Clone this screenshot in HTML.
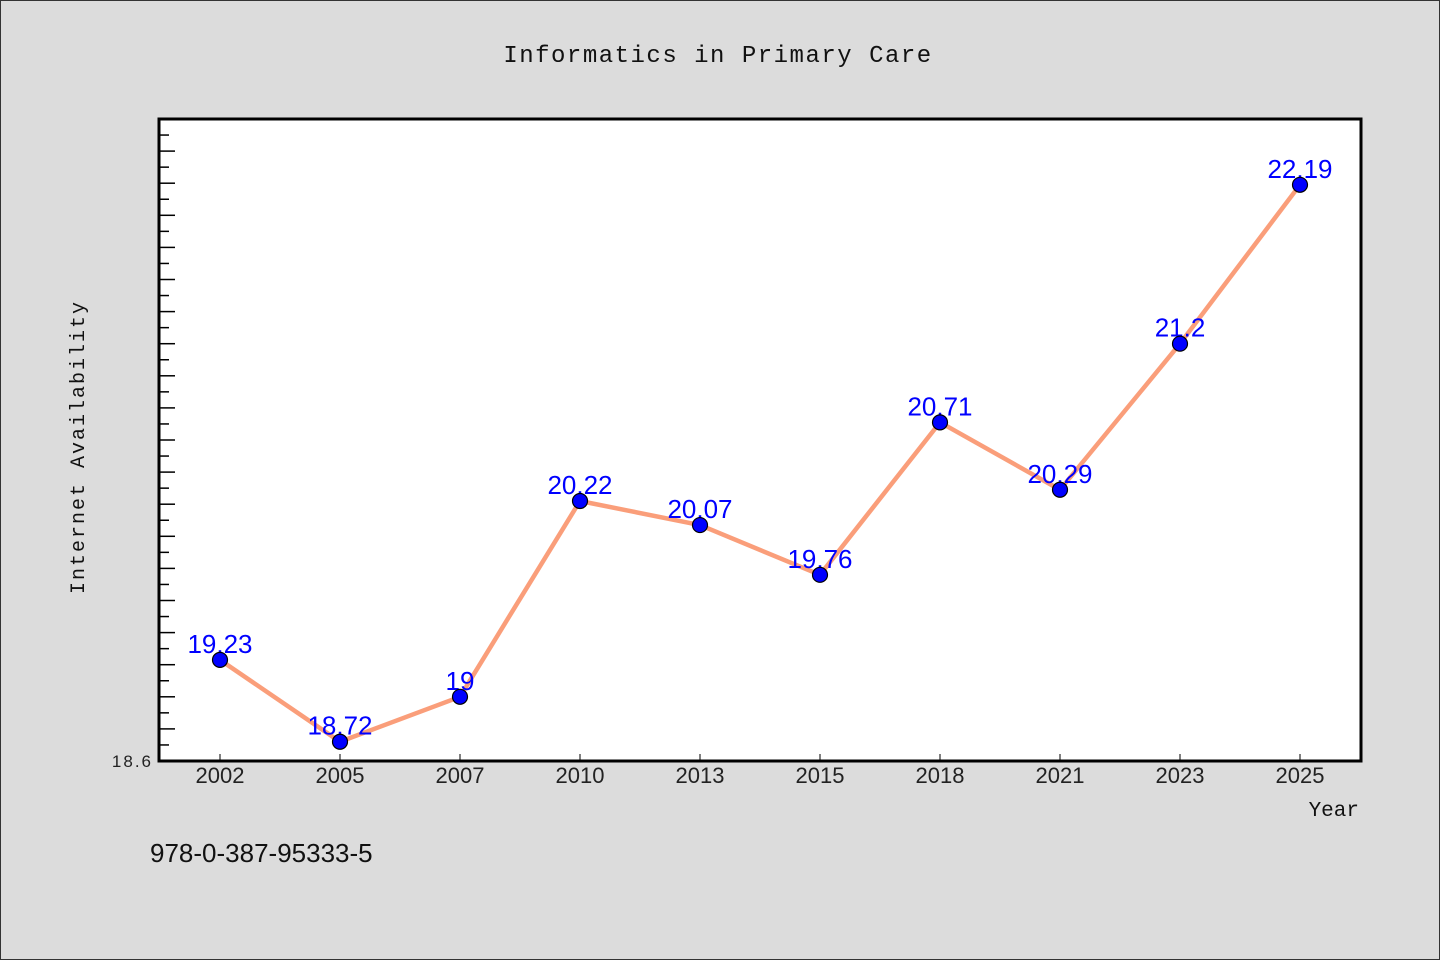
<!DOCTYPE html>
<html><head><meta charset="utf-8"><style>
html,body{margin:0;padding:0;background:#dcdcdc;}
svg{display:block;}
</style></head><body>
<svg width="1440" height="960" viewBox="0 0 1440 960" xmlns="http://www.w3.org/2000/svg">
<rect x="0.5" y="0.5" width="1439" height="959" fill="#dcdcdc" stroke="#333"/>
<text x="718" y="62" text-anchor="middle" font-family="Liberation Mono, monospace" font-size="24" letter-spacing="1.5" fill="#111">Informatics in Primary Care</text>
<rect x="159" y="119" width="1202" height="642" fill="#fff"/>
<g id="ticks"></g>
<g id="series"></g>
<g id="labels"></g>
<rect x="159" y="119" width="1202" height="642" fill="none" stroke="#000" stroke-width="3"/>
<text x="153" y="767" text-anchor="end" font-family="Liberation Sans, sans-serif" font-size="17" letter-spacing="2" fill="#222">18.6</text>
<text transform="translate(84,447) rotate(-90)" text-anchor="middle" font-family="Liberation Mono, monospace" font-size="20" letter-spacing="2" fill="#111">Internet Availability</text>
<text x="1359" y="816" text-anchor="end" font-family="Liberation Mono, monospace" font-size="21" fill="#111">Year</text>
<text x="150" y="862" font-family="Liberation Sans, sans-serif" font-size="26" fill="#111">978-0-387-95333-5</text>
<g id="xlabels"></g>
</svg>
<script>
const categories = ["2002","2005","2007","2010","2013","2015","2018","2021","2023","2025"];
const values = [19.23,18.72,19,20.22,20.07,19.76,20.71,20.29,21.2,22.19];
const valueLabels = ["19.23","18.72","19","20.22","20.07","19.76","20.71","20.29","21.2","22.19"];
const yMin = 18.6, yMax = 22.6, yStep = 0.1;
const NS="http://www.w3.org/2000/svg";
const L=159,R=1361,T=119,B=761;
function xs(i){return 220 + i*120;}
function ys(v){return B - (v - yMin)/(yMax - yMin)*(B-T);}
function mk(tag,attrs,parent){const e=document.createElementNS(NS,tag);for(const k in attrs)e.setAttribute(k,attrs[k]);parent.appendChild(e);return e;}
const tg=document.getElementById('ticks');
const nT=Math.round((yMax-yMin)/yStep);
for(let k=0;k<=nT;k++){
  const y=ys(yMin+k*yStep);
  const len=(k%2===0)?16:10;
  const t=mk('line',{x1:L,x2:L+len,y1:y,y2:y,stroke:'#000','stroke-width':1.5},tg);
  
  
}
const xl=document.getElementById('xlabels');
categories.forEach((c,i)=>{
  const t=mk('line',{x1:xs(i),x2:xs(i),y1:B,y2:B-7,stroke:'#000','stroke-width':1},tg);
  
  
  const tx=mk('text',{x:xs(i),y:783,'text-anchor':'middle','font-family':'Liberation Sans, sans-serif','font-size':22,fill:'#222'},xl);
  tx.textContent=c;
  
  
});
const sg=document.getElementById('series');
const pts=values.map((v,i)=>xs(i)+','+ys(v)).join(' ');
const pl=mk('polyline',{points:pts,fill:'none',stroke:'#fa9e7a','stroke-width':4.5,'stroke-linejoin':'round'},sg);


const lg=document.getElementById('labels');
values.forEach((v,i)=>{
  const t=mk('text',{x:xs(i),y:ys(v)-7,'text-anchor':'middle','font-family':'Liberation Sans, sans-serif','font-size':26,fill:'#0000ff'},lg);
  t.textContent=valueLabels[i];
  
  
});
values.forEach((v,i)=>{
  const c=mk('circle',{cx:xs(i),cy:ys(v),r:7.5,fill:'#0000ff',stroke:'#000','stroke-width':1.2},lg);
  
  
});
</script>
</body></html>
